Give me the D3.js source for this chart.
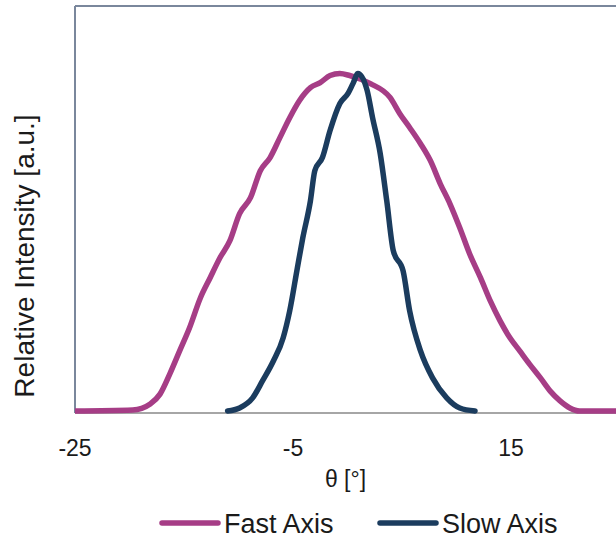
<!DOCTYPE html>
<html>
<head>
<meta charset="utf-8">
<script src="https://cdn.jsdelivr.net/npm/d3@7"></script>
<style>
  body { margin: 0; background: #fff; }
  svg { display: block; font-family: "Liberation Sans", Arial, sans-serif; }
  .tick-lbl { font-size: 23px; fill: #1a1a1a; }
  .axis-title { font-size: 23px; fill: #1a1a1a; }
  .y-title { font-size: 28px; fill: #1a1a1a; }
  .legend-lbl { font-size: 27px; fill: #1a1a1a; }
</style>
</head>
<body>
<div class="chart"></div>
<script>
// angle in degrees, normalised intensity
var fastTheta = [-25, -19.7, -18.1, -17.2, -16.3, -15.4, -14.5, -13.5, -12.6, -11.7, -10.8, -9.9, -8.9, -8.0, -7.1, -6.2, -5.3, -4.4, -3.4, -2.5, -1.6, -0.7, 0.2, 2.1, 3.9, 4.8, 5.7, 6.7, 7.6, 8.5, 9.4, 10.3, 11.2, 12.2, 13.1, 14.0, 14.9, 15.8, 16.7, 17.7, 18.6, 19.5, 20.4, 21.3, 25];
var fastValue = [0, 0.003, 0.021, 0.05, 0.11, 0.178, 0.246, 0.335, 0.395, 0.454, 0.504, 0.585, 0.632, 0.712, 0.751, 0.81, 0.869, 0.92, 0.958, 0.973, 0.994, 1.0, 0.994, 0.97, 0.929, 0.881, 0.84, 0.792, 0.742, 0.674, 0.614, 0.543, 0.466, 0.395, 0.326, 0.267, 0.217, 0.178, 0.139, 0.098, 0.059, 0.03, 0.009, 0, 0];

var slowTheta = [-11.0, -9.9, -8.7, -7.8, -6.8, -5.9, -5.3, -4.6, -4.1, -3.4, -3.0, -2.3, -1.6, -0.7, 0.05, 0.5, 0.96, 1.8, 2.3, 3.0, 3.6, 4.2, 5.1, 5.7, 6.7, 7.8, 9.1, 10.3, 11.7];
var slowValue = [0, 0.009, 0.039, 0.089, 0.148, 0.217, 0.297, 0.424, 0.513, 0.623, 0.712, 0.751, 0.831, 0.911, 0.941, 0.97, 1.0, 0.95, 0.869, 0.763, 0.623, 0.475, 0.415, 0.297, 0.178, 0.098, 0.039, 0.009, 0];

var xTicks = [-25, -5, 15];
var seriesNames = ["Fast Axis", "Slow Axis"];
var seriesColors = ["#a63d86", "#1b3c5e"];

var width = 616, height = 541;
var margin = {top: 6, left: 75};

var x = d3.scaleLinear().domain([-25, 25]).range([margin.left, margin.left + 545]);
var y = d3.scaleLinear().domain([0, 1.2]).range([411, margin.top]);

var svg = d3.select(".chart").append("svg")
    .attr("width", width)
    .attr("height", height);

svg.append("defs").append("clipPath").attr("id", "plot-clip")
  .append("rect")
    .attr("x", margin.left).attr("y", 0)
    .attr("width", width - margin.left).attr("height", 416);

// frame: left and top edges, grey baseline
svg.append("line")
    .attr("x1", x(-25)).attr("x2", x(-25))
    .attr("y1", y(1.2)).attr("y2", y(0) + 2)
    .style("stroke", "#7a879c").style("stroke-width", 2);
svg.append("line")
    .attr("x1", x(-25)).attr("x2", width)
    .attr("y1", y(1.2)).attr("y2", y(1.2))
    .style("stroke", "#7a879c").style("stroke-width", 2);
svg.append("line")
    .attr("x1", x(-25)).attr("x2", width)
    .attr("y1", y(0) + 2).attr("y2", y(0) + 2)
    .style("stroke", "#a6a6a6").style("stroke-width", 2);

// tick labels
svg.append("g").selectAll("text")
    .data(xTicks)
    .enter().append("text")
    .attr("class", "tick-lbl")
    .attr("x", function(d){ return x(d); })
    .attr("y", 456)
    .attr("text-anchor", "middle")
    .text(function(d){ return d; });

svg.append("text")
    .attr("class", "axis-title")
    .attr("x", (margin.left + width) / 2)
    .attr("y", 487)
    .attr("text-anchor", "middle")
    .text("θ [°]");

svg.append("text")
    .attr("class", "y-title")
    .attr("transform", "translate(34," + 256 + ") rotate(-90)")
    .attr("text-anchor", "middle")
    .text("Relative Intensity [a.u.]");

var line = d3.line()
    .x(function(d){ return x(d[0]); })
    .y(function(d){ return y(d[1]); })
    .curve(d3.curveMonotoneX);

var series = [d3.zip(fastTheta, fastValue), d3.zip(slowTheta, slowValue)];

svg.append("g").attr("clip-path", "url(#plot-clip)")
  .selectAll("path")
    .data(series)
    .enter().append("path")
    .attr("d", line)
    .style("fill", "none")
    .style("stroke", function(d, i){ return seriesColors[i]; })
    .style("stroke-width", 5.5)
    .style("stroke-linecap", "round")
    .style("stroke-linejoin", "round");

// legend
var legendX = [160, 378];
var legend = svg.append("g").selectAll("g")
    .data(seriesNames)
    .enter().append("g")
    .attr("transform", function(d, i){ return "translate(" + legendX[i] + ",523)"; });
legend.append("line")
    .attr("x1", 2).attr("x2", 58)
    .style("stroke", function(d, i){ return seriesColors[i]; })
    .style("stroke-width", 5.5)
    .style("stroke-linecap", "round");
legend.append("text")
    .attr("class", "legend-lbl")
    .attr("x", 64)
    .attr("y", 10)
    .text(function(d){ return d; });
</script>
</body>
</html>
